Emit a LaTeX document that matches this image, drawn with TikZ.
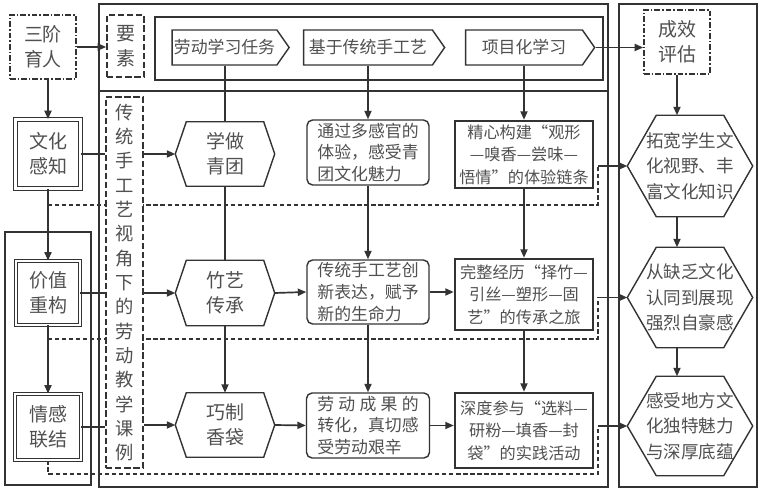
\documentclass[tikz,border=0pt]{standalone}
\usepackage{fontspec}
\setmainfont{Noto Sans CJK SC}
\usetikzlibrary{arrows.meta,shapes.symbols,calc,backgrounds}
\definecolor{ink}{HTML}{333333}
\definecolor{txt}{HTML}{505050}
\tikzset{
  basebox/.style={draw=ink, line width=1pt, fill=white, text=txt, inner sep=0pt, align=center,
    font=\fontsize{12}{15.5}\selectfont},
  bigtxt/.style={font=\fontsize{13.5}{18}\selectfont},
  dashdotbox/.style={basebox, bigtxt, line width=1.2pt, dash pattern=on 4pt off 1.5pt on 1pt off 1.5pt},
  dashbox/.style={basebox, bigtxt, line width=1.2pt, dash pattern=on 4.5pt off 2pt},
  dblbox/.style={basebox, bigtxt, double=white, double distance=1.8pt, line width=0.6pt},
  flag/.style={basebox, signal, signal to=east, signal pointer angle=110},
  hexbox/.style={basebox, draw=none, fill=none, bigtxt},
  roundbox/.style={basebox, rounded corners=4pt, align=left},
  thickbox/.style={basebox, line width=1.8pt, font=\fontsize{11.5}{16}\selectfont},
  frame/.style={draw=ink, line width=1.2pt},
  conn/.style={draw=ink, line width=1.2pt},
  arr/.style={conn, -{Triangle[length=6pt,width=5pt]}},
  dashconn/.style={draw=ink, line width=1.1pt, dash pattern=on 3pt off 2pt},
}
\begin{document}
\begin{tikzpicture}[x=0.025cm, y=-0.025cm]
  \useasboundingbox (0,0) rectangle (759,490);

  % frames
  \draw[frame] (5,232) rectangle (91,485);
  \draw[frame] (99,4) rectangle (608,487);
  \draw[frame] (99,91) -- (608,91);
  \draw[frame] (155,17) rectangle (603,80);
  \draw[frame] (619,4) rectangle (757,487);

  % left column
  \node[dashdotbox, minimum width=1.65cm, minimum height=1.6cm] (sj) at (43,47) {三阶\\育人};
  \node[dashbox, minimum width=0.925cm, minimum height=1.55cm] (ys) at (125.5,46) {要\\素};
  \node[dblbox, minimum width=1.62cm, minimum height=1.72cm] (wh) at (48,154) {文化\\感知};
  \node[dblbox, minimum width=1.6cm, minimum height=1.6cm] (jz) at (48,293) {价值\\重构};
  \node[dblbox, minimum width=1.65cm, minimum height=1.65cm] (qg) at (48,427) {情感\\联结};

  % top row
  \node[flag, minimum width=2.925cm, minimum height=0.875cm] (lw) at (224.5,47.5) {劳动学习任务};
  \node[flag, minimum width=3.525cm, minimum height=0.875cm] (cs) at (368,47.5) {基于传统手工艺};
  \node[flag, minimum width=3.225cm, minimum height=0.875cm] (xm) at (524,47.5) {项目化学习};

  \node[dashbox, minimum width=0.925cm, minimum height=9.275cm, font=\fontsize{13}{17.3}\selectfont] (kl) at (124.5,282.5)
    {传\\统\\手\\工\\艺\\视\\角\\下\\的\\劳\\动\\教\\学\\课\\例};

  % cases
  \node[hexbox, minimum width=2.45cm, minimum height=1.575cm] (qt) at (225,154) {学做\\青团};
  \node[hexbox, minimum width=2.45cm, minimum height=1.6cm] (zy) at (225,293) {竹艺\\传承};
  \node[hexbox, minimum width=2.45cm, minimum height=1.575cm] (xd) at (225,425) {巧制\\香袋};

  \node[roundbox, minimum width=3.05cm, minimum height=1.625cm] (g1) at (368,152.5) {通过多感官的\\体验，感受青\\团文化魅力};
  \node[roundbox, minimum width=3.05cm, minimum height=1.6cm] (g2) at (368,292) {传统手工艺创\\新表达，赋予\\新的生命力};
  \node[roundbox, minimum width=3.075cm, minimum height=1.625cm] (g3) at (368,425.5)
    {\makebox[6em][s]{劳\hfill 动\hfill 成\hfill 果\hfill 的}\\转化，真切感\\受劳动艰辛};

  \node[thickbox, minimum width=3.45cm, minimum height=1.675cm] (r1) at (524,154.5) {精心构建“观形\\—嗅香—尝味—\\悟情”的体验链条};
  \node[thickbox, minimum width=3.45cm, minimum height=1.775cm] (r2) at (524,294.5) {完整经历“择竹—\\引丝—塑形—固\\艺”的传承之旅};
  \node[thickbox, minimum width=3.45cm, minimum height=1.875cm] (r3) at (524,430.5) {深度参与“选料—\\研粉—填香—封\\袋”的实践活动};

  % effects
  \node[dashdotbox, minimum width=1.65cm, minimum height=1.6cm] (px) at (677,42) {成效\\评估};
  \node[hexbox, minimum width=3.1cm, minimum height=2.5cm, font=\fontsize{12.5}{18}\selectfont] (e1) at (690,166) {拓宽学生文\\化视野、丰\\富文化知识};
  \node[hexbox, minimum width=3.1cm, minimum height=2.475cm, font=\fontsize{12.5}{18}\selectfont] (e2) at (690,297.5) {从缺乏文化\\认同到展现\\强烈自豪感};
  \node[hexbox, minimum width=3.1cm, minimum height=2.45cm, font=\fontsize{12.5}{18}\selectfont] (e3) at (690,426) {感受地方文\\化独特魅力\\与深厚底蕴};

  \foreach \n/\s in {qt/11,zy/11,xd/11,e1/29,e2/29,e3/29}
    \draw[conn, line width=1pt] (\n.west) -- ($(\n.north west)+(\s,0)$) -- ($(\n.north east)-(\s,0)$)
      -- (\n.east) -- ($(\n.south east)-(\s,0)$) -- ($(\n.south west)+(\s,0)$) -- cycle;

  % left connectors
  \draw[arr] (sj.east) -- (sj.east -| ys.west);
  \draw[arr] (sj.south -| wh.north) -- (wh.north);
  \draw[arr] (wh.south) -- (jz.north);
  \draw[arr] (jz.south) -- (qg.north);
  \draw[conn] (wh.east) -- (wh.east -| kl.west);
  \draw[conn] (jz.east) -- (jz.east -| kl.west);
  \draw[conn] (qg.east) -- (qg.east -| kl.west);
  \draw[arr] (kl.east |- qt.west) -- (qt.west);
  \draw[arr] (kl.east |- zy.west) -- (zy.west);
  \draw[arr] (kl.east |- xd.west) -- (xd.west);

  % columns
  \draw[conn] (lw.south -| qt.north) -- (qt.north);
  \draw[conn] (qt.south) -- (zy.north);
  \draw[arr] (zy.south) -- (xd.north);
  \draw[arr] (cs.south) -- (g1.north);
  \draw[arr] (g1.south) -- (g2.north);
  \draw[arr] (g2.south) -- (g3.north);
  \draw[arr] (xm.south) -- (r1.north);
  \draw[arr] (r1.south) -- (r2.north);
  \draw[arr] (r2.south) -- (r3.north);

  % rows
  \draw[arr] (zy.east) -- (g2.west);
  \draw[arr] (g2.east) -- (g2.east -| r2.west);
  \draw[arr] (xd.east) -- (g3.west);
  \draw[arr] (g3.east) -- (g3.east -| r3.west);

  % effects column
  \draw[arr] (xm.east) -- (xm.east -| px.west);
  \draw[arr] (px.south) -- (px.south |- e1.north);
  \draw[arr] (e1.south -| px.south) -- (e2.north -| px.south);
  \draw[arr] (e2.south -| px.south) -- (e3.north -| px.south);

  % dashed links to effects
  \coordinate (k1) at (598,205);
  \coordinate (k2) at (598,339);
  \coordinate (k3) at (598,474);
  \begin{scope}[on background layer]
    \draw[dashconn] (wh.south |- k1) -- (k1) -- (k1 |- e1.west);
    \draw[dashconn] (jz.south |- k2) -- (k2) -- (k2 |- e2.west);
    \draw[dashconn] (qg.south) -- (qg.south |- k3) -- (k3) -- (k3 |- e3.west);
  \end{scope}
  \draw[arr] (k1 |- e1.west) -- (e1.west);
  \draw[arr] (k2 |- e2.west) -- (e2.west);
  \draw[arr] (k3 |- e3.west) -- (e3.west);
\end{tikzpicture}
\end{document}
